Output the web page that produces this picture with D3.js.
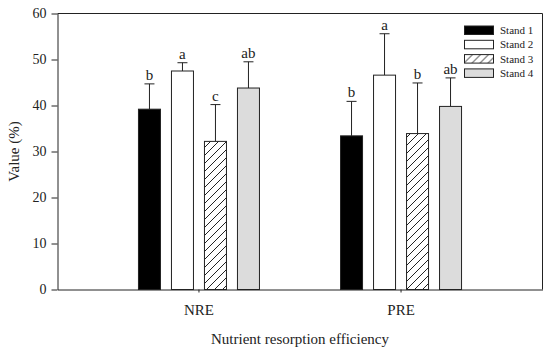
<!DOCTYPE html>
<html>
<head>
<meta charset="utf-8">
<script src="https://cdn.jsdelivr.net/npm/d3@7"></script>
<style>
  body { margin: 0; background: #fff; }
  svg { display: block; font-family: "Liberation Serif", "Times New Roman", serif; }
</style>
</head>
<body>
<svg id="chart" width="550" height="352"></svg>
<script>
// data
const groups = ["NRE", "PRE"];
const stands = ["Stand 1", "Stand 2", "Stand 3", "Stand 4"];
const means = {
  NRE: [39.2, 47.5, 32.2, 43.8],
  PRE: [33.4, 46.6, 33.9, 39.8]
};
const errUp = {
  NRE: [44.7, 49.3, 40.2, 49.5],
  PRE: [40.9, 55.6, 44.9, 46.0]
};
const letters = {
  NRE: ["b", "a", "c", "ab"],
  PRE: ["b", "a", "b", "ab"]
};
const yTicks = [0, 10, 20, 30, 40, 50, 60];

const fills = ["#000", "#fff", "url(#hatch)", "#dcdcdc"];

const svg = d3.select("#chart");
const plotL = 57.5, plotR = 542.5, plotT = 13.5, plotB = 289.5;

// hatch pattern for stand 3
const pat = svg.append("defs").append("pattern")
  .attr("id", "hatch")
  .attr("patternUnits", "userSpaceOnUse")
  .attr("width", 8).attr("height", 8);
pat.append("rect").attr("width", 8).attr("height", 8).attr("fill", "#fff");
pat.append("path")
  .attr("d", "M-2,2 L2,-2 M0,8 L8,0 M6,10 L10,6")
  .attr("stroke", "#222").attr("stroke-width", 1);

const x = d3.scaleBand().domain(groups).range([plotL, plotR]).paddingOuter(0.2).paddingInner(0);
const xs = d3.scaleBand().domain(stands).range([-60.5, 60.5]).paddingInner(1 / 3);
const y = d3.scaleLinear().domain([0, 60]).range([plotB, plotT]);

// frame (top + right)
svg.append("path")
  .attr("d", `M${plotL},${plotT}H${plotR}V${plotB}`)
  .attr("fill", "none").attr("stroke", "#222").attr("stroke-width", 1);

const barRows = groups.flatMap(g => stands.map((s, i) => ({
  g, s, i, v: means[g][i], e: errUp[g][i], l: letters[g][i]
})));
const bx = d => x(d.g) + x.bandwidth() / 2 + xs(d.s);

// error bars (upward only)
const eb = svg.append("g").attr("stroke", "#222").attr("stroke-width", 1);
eb.selectAll("line.v").data(barRows).join("line")
  .attr("class", "v")
  .attr("x1", d => bx(d) + xs.bandwidth() / 2).attr("x2", d => bx(d) + xs.bandwidth() / 2)
  .attr("y1", d => y(d.v)).attr("y2", d => y(d.e));
eb.selectAll("line.c").data(barRows).join("line")
  .attr("class", "c")
  .attr("x1", d => bx(d) + xs.bandwidth() / 2 - 5).attr("x2", d => bx(d) + xs.bandwidth() / 2 + 5)
  .attr("y1", d => y(d.e)).attr("y2", d => y(d.e));

svg.append("g").selectAll("rect").data(barRows).join("rect")
  .attr("x", d => bx(d))
  .attr("y", d => y(d.v))
  .attr("width", xs.bandwidth())
  .attr("height", d => y(0) - y(d.v))
  .attr("fill", d => fills[d.i])
  .attr("stroke", "#222").attr("stroke-width", 1);

svg.append("g").selectAll("text").data(barRows).join("text")
  .attr("x", d => bx(d) + xs.bandwidth() / 2)
  .attr("y", d => y(d.e) - 4)
  .attr("text-anchor", "middle")
  .attr("font-size", 15)
  .attr("fill", "#222")
  .text(d => d.l);

// axes
const yAxis = svg.append("g")
  .attr("transform", `translate(${plotL},0)`)
  .call(d3.axisLeft(y).tickValues(yTicks).tickSize(6).tickPadding(5).tickSizeOuter(0));
yAxis.selectAll("text").attr("font-size", 14).attr("font-family", "Liberation Serif").attr("fill", "#222");

const xAxis = svg.append("g")
  .attr("transform", `translate(0,${plotB})`)
  .call(d3.axisBottom(x).tickSize(3).tickPadding(12).tickSizeOuter(0));
xAxis.selectAll("text").attr("font-size", 15).attr("font-family", "Liberation Serif").attr("fill", "#222");

svg.selectAll(".domain, .tick line").attr("stroke", "#222");

svg.append("text")
  .attr("x", (plotL + plotR) / 2).attr("y", 344)
  .attr("text-anchor", "middle").attr("font-size", 15).attr("fill", "#222")
  .text("Nutrient resorption efficiency");

svg.append("text")
  .attr("transform", `translate(19,${(plotT + plotB) / 2}) rotate(-90)`)
  .attr("text-anchor", "middle").attr("font-size", 15).attr("fill", "#222")
  .text("Value (%)");

// legend
const leg = svg.append("g").selectAll("g").data(stands).join("g")
  .attr("transform", (d, i) => `translate(464.5,${26 + i * 14.3})`);
leg.append("rect")
  .attr("width", 29).attr("height", 8.5)
  .attr("fill", (d, i) => fills[i])
  .attr("stroke", "#222").attr("stroke-width", 1);
leg.append("text")
  .attr("x", 35.5).attr("y", 8)
  .attr("font-size", 11).attr("fill", "#222")
  .text(d => d);
</script>
</body>
</html>
